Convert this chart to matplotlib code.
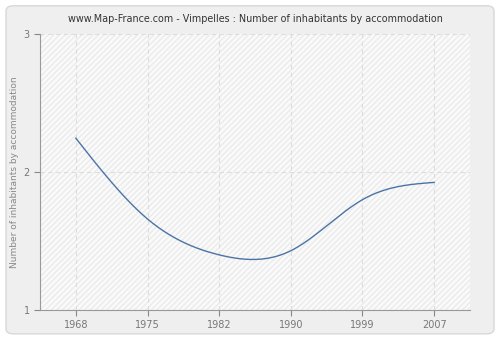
import matplotlib
matplotlib.use("Agg")
import matplotlib.pyplot as plt
import numpy as np
from matplotlib.patches import FancyBboxPatch

years = ["1968", "1975", "1982", "1990", "1999", "2007"]
values = [2.245, 1.66, 1.40, 1.43, 1.80, 1.925]


def smooth(y, n=200):
    # natural cubic spline through the points, in index space
    y = np.asarray(y, dtype=float)
    k = len(y)
    A = np.zeros((k, k))
    b = np.zeros(k)
    A[0, 0] = A[-1, -1] = 1
    for i in range(1, k - 1):
        A[i, i - 1], A[i, i], A[i, i + 1] = 1, 4, 1
        b[i] = 6 * (y[i - 1] - 2 * y[i] + y[i + 1])
    m = np.linalg.solve(A, b)
    xs = np.linspace(0, k - 1, n)
    idx = np.minimum(xs.astype(int), k - 2)
    t = xs - idx
    ys = ((1 - t) * y[idx] + t * y[idx + 1]
          + ((1 - t) ** 3 - (1 - t)) * m[idx] / 6 + (t ** 3 - t) * m[idx + 1] / 6)
    return xs, ys


fig = plt.figure(figsize=(5, 3.4), dpi=100)
fig.patch.set_facecolor("white")
fig.patches.append(FancyBboxPatch((0.012, 0.018), 0.976, 0.965,
                                  boxstyle="round,pad=0,rounding_size=0.015",
                                  transform=fig.transFigure, facecolor="#efefef",
                                  edgecolor="#d8d8d8", linewidth=1, zorder=-1))

ax = fig.add_axes([0.08, 0.088, 0.86, 0.812])
ax.set_zorder(1)
ax.set_facecolor("#fafafa")
ax.add_patch(plt.Rectangle((0, 0), 1, 1, transform=ax.transAxes, facecolor="none",
                           edgecolor="#ebebeb", hatch="//////", linewidth=0, zorder=0))

x = np.arange(len(years))
sx, sy = smooth(values)
ax.plot(sx, sy, color="#4a74a6", linewidth=1.0, zorder=3)

ax.set_xlim(-0.5, len(years) - 0.5)
ax.set_ylim(1, 3)
ax.set_xticks(x)
ax.set_xticklabels(years)
ax.set_yticks([1, 2, 3])

ax.grid(True, color="#dddddd", linestyle=(0, (4, 3)), linewidth=0.8)
ax.set_axisbelow(True)
for s in ["top", "right"]:
    ax.spines[s].set_visible(False)
for s in ["left", "bottom"]:
    ax.spines[s].set_color("#999999")
ax.tick_params(colors="#888888", labelsize=7, length=4, width=0.8)
for lab in ax.get_xticklabels() + ax.get_yticklabels():
    lab.set_color("#777777")

ax.set_ylabel("Number of inhabitants by accommodation", fontsize=6.5, color="#888888",
              labelpad=3)
ax.set_title("www.Map-France.com - Vimpelles : Number of inhabitants by accommodation",
             fontsize=6.9, color="#333333", pad=9)

fig.savefig("out.png", dpi=100, facecolor=fig.get_facecolor())
